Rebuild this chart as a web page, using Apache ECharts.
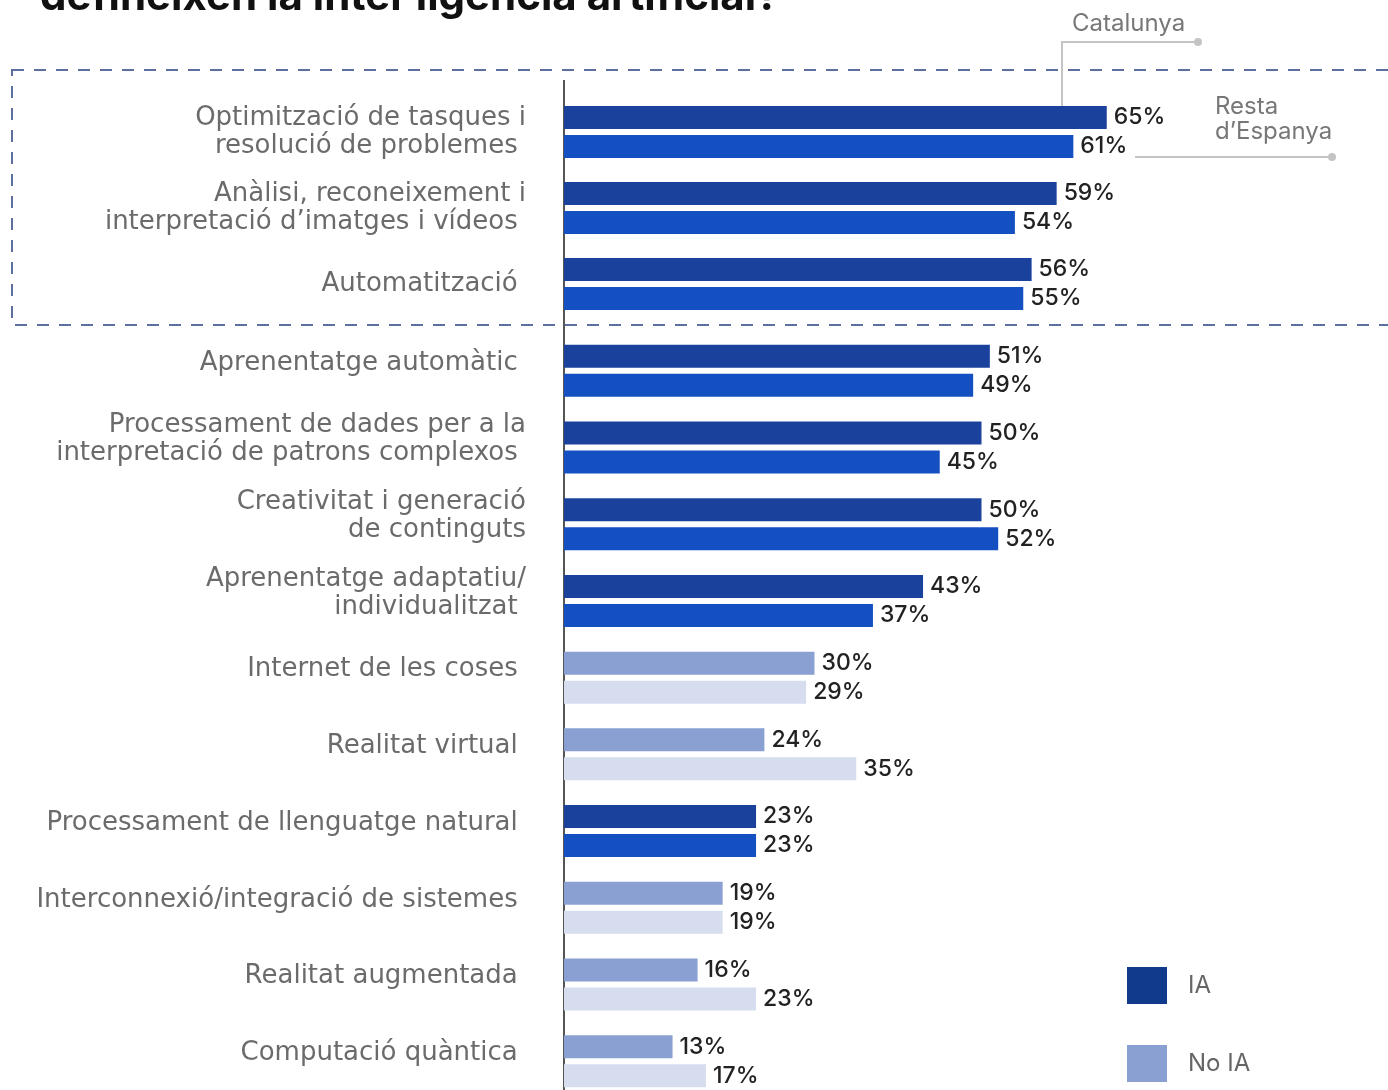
<!DOCTYPE html>
<html style="height: 100%">
<head>
<meta charset="utf-8">
<script src="https://cdn.jsdelivr.net/npm/echarts@6/dist/echarts.min.js"></script>
</head>
<body style="height: 100%; margin: 0; background: #fff; overflow: hidden">
<!-- taller than the window: the chart is cropped at the bottom like the original -->
<div id="container" style="width: 1388px; height: 1200px"></div>
<script type="text/javascript">
// categories, top to bottom
var categories = [
    'Optimització de tasques i\nresolució de problemes ',
    'Anàlisi, reconeixement i\ninterpretació d’imatges i vídeos ',
    'Automatització ',
    'Aprenentatge automàtic ',
    'Processament de dades per a la\ninterpretació de patrons complexos ',
    'Creativitat i generació\nde continguts',
    'Aprenentatge adaptatiu/\nindividualitzat ',
    'Internet de les coses ',
    'Realitat virtual ',
    'Processament de llenguatge natural ',
    'Interconnexió/integració de sistemes ',
    'Realitat augmentada ',
    'Computació quàntica '
];
var catalunya = [65, 59, 56, 51, 50, 50, 43, 30, 24, 23, 19, 16, 13];
var resta     = [61, 54, 55, 49, 45, 52, 37, 29, 35, 23, 19, 23, 17];
// 1 = IA, 0 = No IA
var isIA      = [1, 1, 1, 1, 1, 1, 1, 0, 0, 1, 0, 0, 0];
var topCount = 3; // categories inside the dashed box

var colIA_cat = '#1a419c', colIA_resta = '#1550c2';
var colNo_cat = '#8aa0d2', colNo_resta = '#d6ddee';

var axisX = 564, pxPer = 8.35, xMax = 80;
var bottomTop = 332.5, bottomHeight = 767;

function barData(vals, from, to, cIA, cNo) {
    var out = [];
    for (var i = from; i < to; i++) {
        out.push({ value: vals[i], itemStyle: { color: isIA[i] ? cIA : cNo } });
    }
    return out;
}

var font = 'Inter, "Noto Sans", sans-serif';
var labelFont = '"DejaVu Sans", Inter, sans-serif';
var valueLabel = {
    show: true, position: 'right', distance: 7,
    formatter: '{c}%', color: '#222', fontSize: 23, fontFamily: font, fontWeight: 500
};

function bars(name, vals, from, to, cIA, cNo, idx) {
    return {
        name: name, type: 'bar', xAxisIndex: idx, yAxisIndex: idx,
        barWidth: 23, barGap: '26%',
        label: valueLabel,
        data: barData(vals, from, to, cIA, cNo),
        silent: true
    };
}

function yAxisFor(idx, data, showLabels) {
    return {
        gridIndex: idx, type: 'category', inverse: true, data: data,
        axisLine: { show: false }, axisTick: { show: false },
        axisLabel: { show: showLabels, margin: 38, color: '#6b6b6b', fontSize: 26, lineHeight: 28,
                     fontFamily: labelFont }
    };
}
function xAxisFor(idx) {
    return { gridIndex: idx, type: 'value', min: 0, max: xMax, show: false, splitLine: { show: false } };
}

var dom = document.getElementById('container');
var myChart = echarts.init(dom);
var option = {
    backgroundColor: '#fff',
    animation: false,
    grid: [
        { left: axisX, top: 94, height: 228, width: pxPer * xMax },
        { left: axisX, top: bottomTop, height: bottomHeight, width: pxPer * xMax },
        // label-only grid: the lower labels sit a little above their bar pairs
        { left: axisX, top: bottomTop - 8, height: bottomHeight, width: pxPer * xMax }
    ],
    xAxis: [xAxisFor(0), xAxisFor(1), xAxisFor(2)],
    yAxis: [
        yAxisFor(0, categories.slice(0, topCount), true),
        yAxisFor(1, categories.slice(topCount), false),
        yAxisFor(2, categories.slice(topCount), true)
    ],
    legend: {
        orient: 'vertical', left: 1127, top: 967, padding: 0,
        itemWidth: 40, itemHeight: 37, itemGap: 41, icon: 'rect',
        selectedMode: false,
        textStyle: { color: '#666', fontSize: 24, fontFamily: font, padding: [0, 0, 0, 16] },
        data: ['IA', 'No IA']
    },
    series: [
        bars('Catalunya', catalunya, 0, topCount, colIA_cat, colNo_cat, 0),
        bars("Resta d'Espanya", resta, 0, topCount, colIA_resta, colNo_resta, 0),
        bars('Catalunya', catalunya, topCount, categories.length, colIA_cat, colNo_cat, 1),
        bars("Resta d'Espanya", resta, topCount, categories.length, colIA_resta, colNo_resta, 1),
        { name: 'IA', type: 'bar', xAxisIndex: 2, yAxisIndex: 2, data: [], itemStyle: { color: '#123a8c' } },
        { name: 'No IA', type: 'bar', xAxisIndex: 2, yAxisIndex: 2, data: [], itemStyle: { color: colNo_cat } }
    ],
    graphic: [
        // cropped title
        { type: 'text', left: 40, top: -24, silent: true,
          style: { text: 'defineixen la intel·ligència artificial?', fill: '#111',
                   font: 'bold 42px ' + font } },
        // dashed box round the top group
        { type: 'rect', silent: true, shape: { x: 12, y: 70, width: 1420, height: 255 },
          style: { fill: 'none', stroke: '#5d6f9e', lineWidth: 2, lineDash: [12, 10] } },
        // vertical axis line
        { type: 'line', silent: true, shape: { x1: axisX, y1: 80, x2: axisX, y2: 1090 },
          style: { stroke: '#555', lineWidth: 2 } },
        // Catalunya callout
        { type: 'polyline', silent: true, shape: { points: [[1062, 107], [1062, 42], [1198, 42]] },
          style: { stroke: '#c4c4c4', lineWidth: 2, fill: 'none' } },
        { type: 'circle', silent: true, shape: { cx: 1198, cy: 42, r: 4 }, style: { fill: '#c4c4c4' } },
        { type: 'text', left: 1072, top: 12, silent: true,
          style: { text: 'Catalunya', fill: '#777', font: '24px ' + font } },
        // Resta d'Espanya callout
        { type: 'line', silent: true, shape: { x1: 1135, y1: 157, x2: 1332, y2: 157 },
          style: { stroke: '#c4c4c4', lineWidth: 2 } },
        { type: 'circle', silent: true, shape: { cx: 1332, cy: 157, r: 4 }, style: { fill: '#c4c4c4' } },
        { type: 'text', left: 1215, top: 94, silent: true,
          style: { text: 'Resta\nd’Espanya', fill: '#777', font: '24px ' + font, lineHeight: 25 } }
    ]
};
myChart.setOption(option, true);
window.onresize = function () {
    myChart.resize();
};
</script>
</body>
</html>
